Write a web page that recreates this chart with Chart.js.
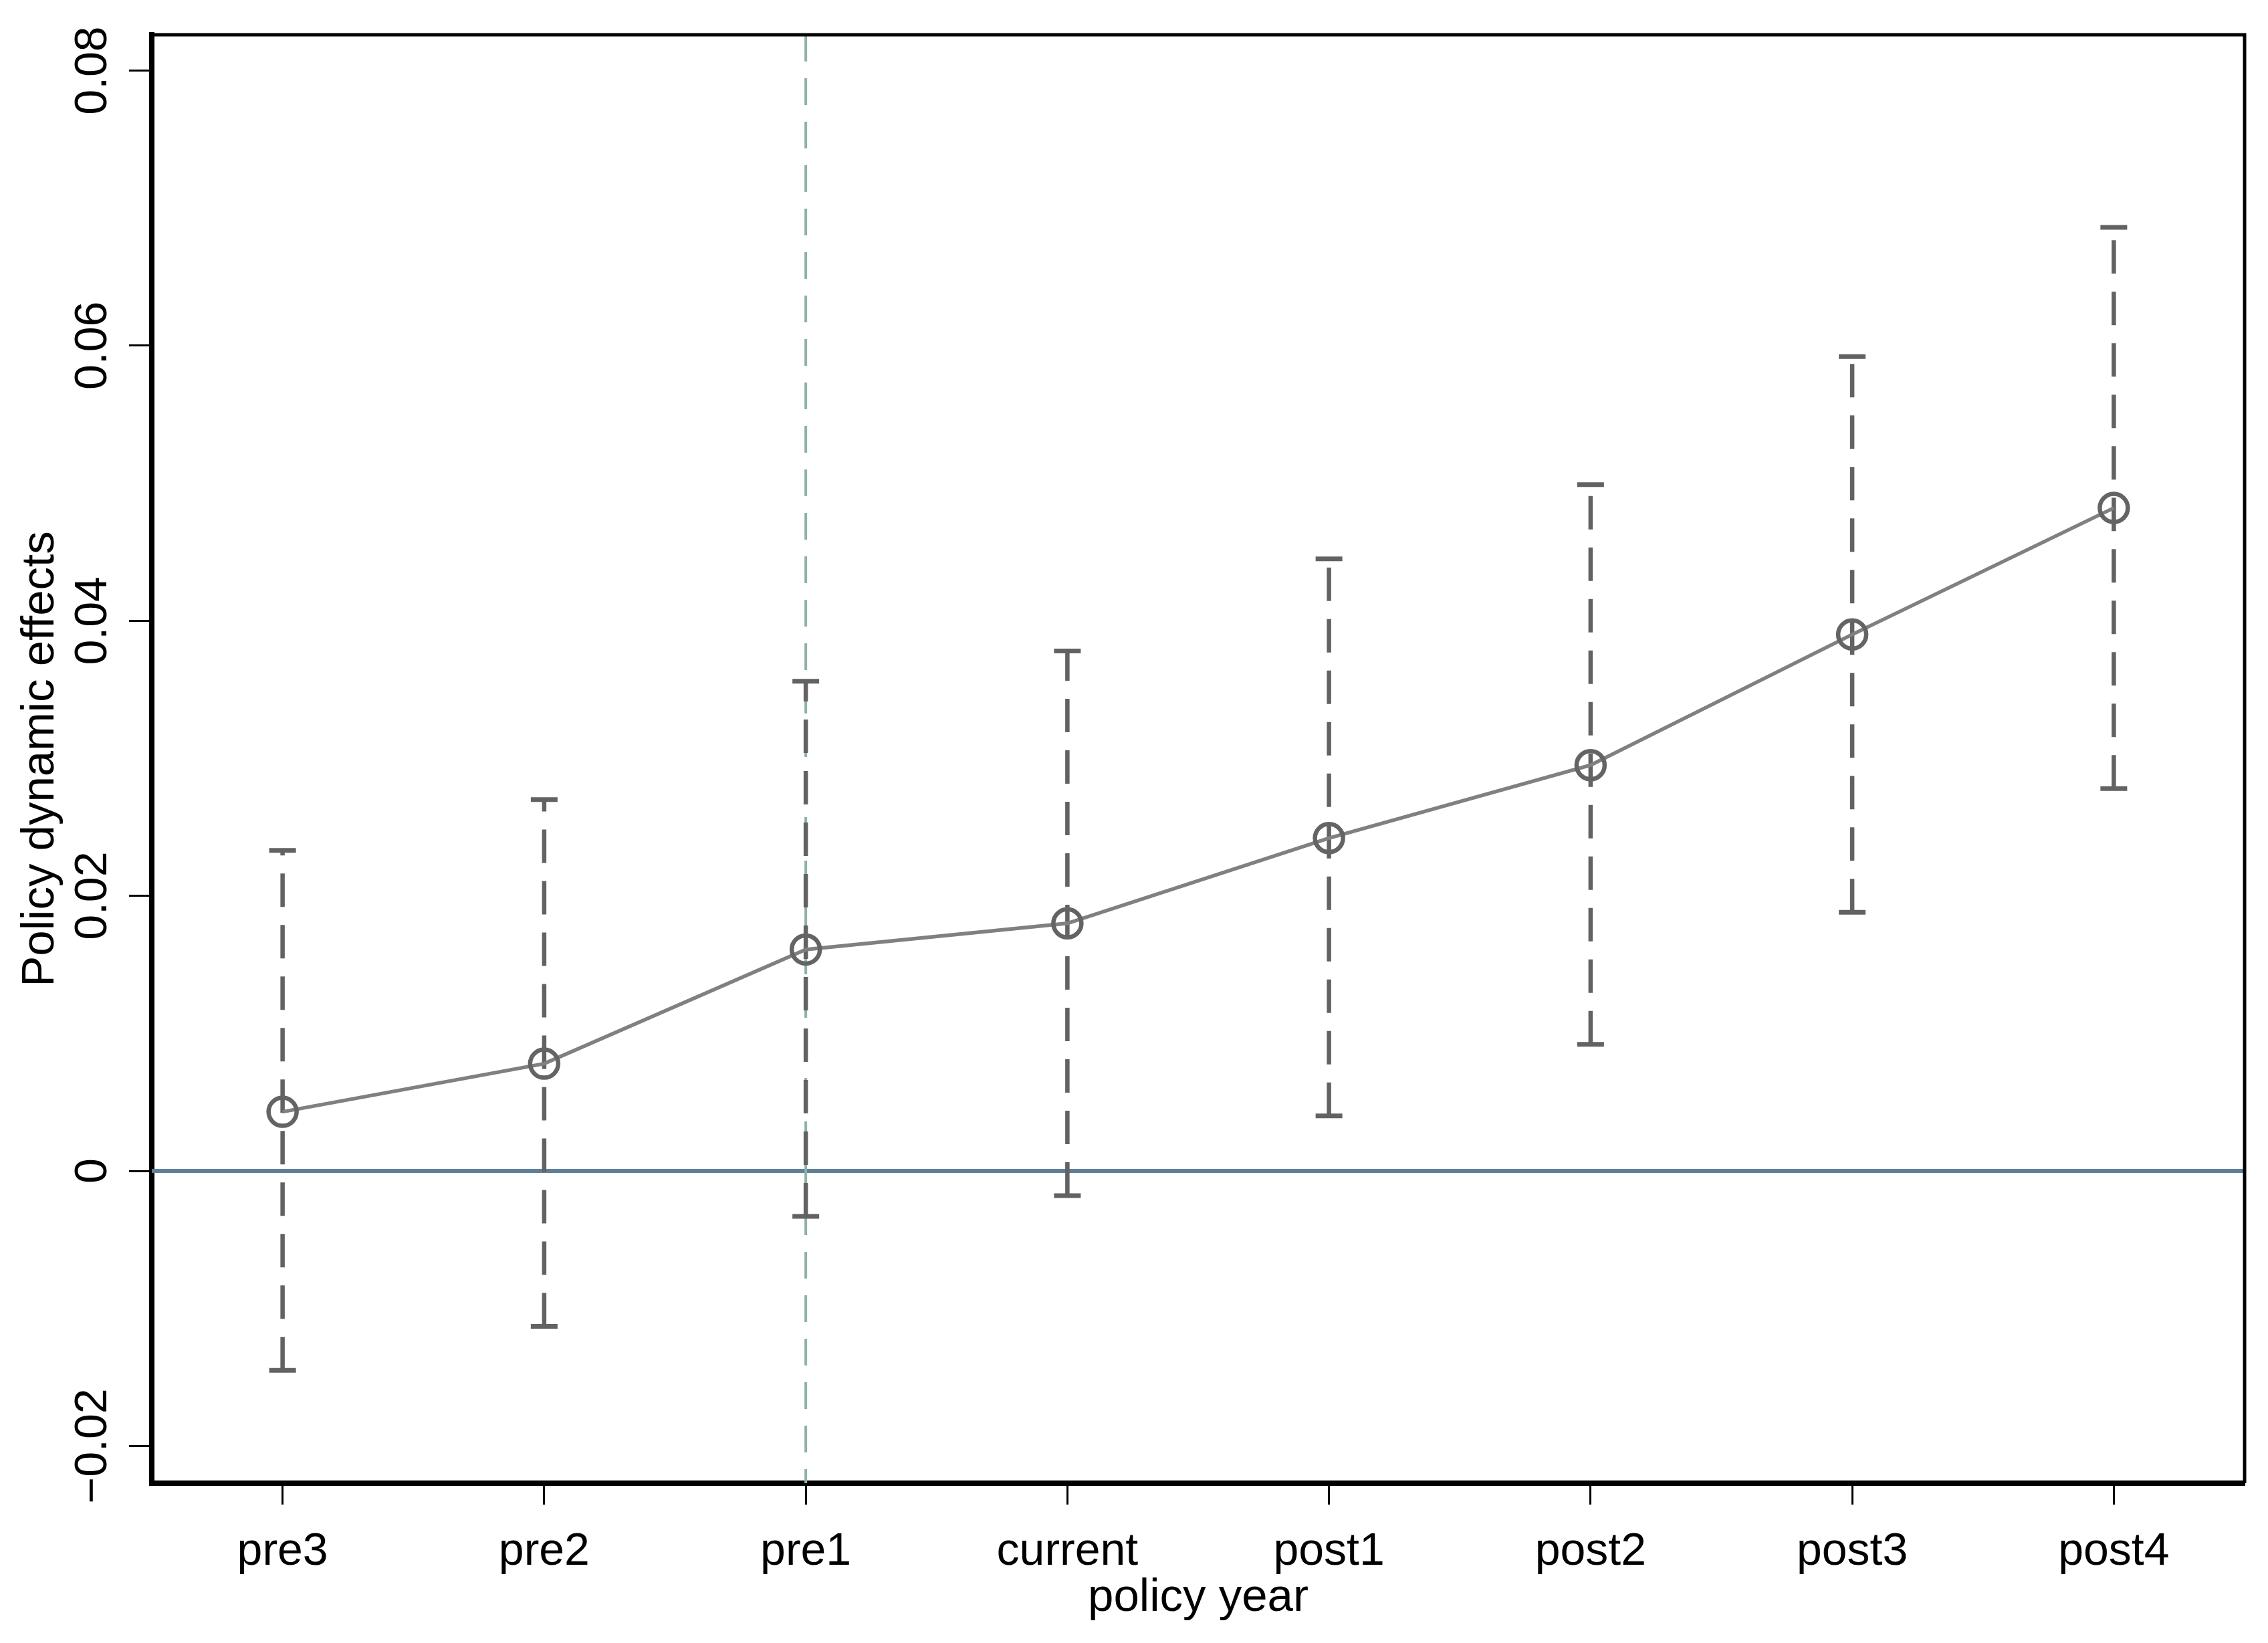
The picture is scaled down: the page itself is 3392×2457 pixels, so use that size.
<!DOCTYPE html>
<html>
<head>
<meta charset="utf-8">
<script src="https://cdn.jsdelivr.net/npm/chart.js@4.4.1/dist/chart.umd.min.js"></script>
<style>
  html, body { margin: 0; padding: 0; background: #fff; }
  #wrap { width: 3392px; height: 2457px; position: relative; }
</style>
</head>
<body>
<div id="wrap"><canvas id="effects"></canvas></div>
<script>
// data
const categories = ['pre3', 'pre2', 'pre1', 'current', 'post1', 'post2', 'post3', 'post4'];
const coef  = [0.0043, 0.0078, 0.0161, 0.0180, 0.0242, 0.0295, 0.0390, 0.0482];
const lower = [-0.0145, -0.0113, -0.0033, -0.0018, 0.0040, 0.0092, 0.0188, 0.0278];
const upper = [0.0233, 0.0270, 0.0356, 0.0378, 0.0445, 0.0499, 0.0592, 0.0686];
const yTicks = [-0.02, 0, 0.02, 0.04, 0.06, 0.08];
const yTickLabels = ['\u22120.02', '0', '0.02', '0.04', '0.06', '0.08'];
const refCategory = 'pre1';
const refValue = 0;

const FONT = "'Liberation Sans', Arial, sans-serif";

// reference lines + error bars, under the line and markers
const ciPlugin = {
  id: 'ciBars',
  beforeDatasetsDraw(chart) {
    const {ctx, chartArea, scales: {x, y}} = chart;
    ctx.save();
    ctx.beginPath();
    ctx.rect(chartArea.left, chartArea.top, chartArea.right - chartArea.left, chartArea.bottom - chartArea.top);
    ctx.clip();

    // zero line
    const y0 = y.getPixelForValue(refValue);
    ctx.strokeStyle = '#5f7f98';
    ctx.lineWidth = 6;
    ctx.setLineDash([]);
    ctx.beginPath();
    ctx.moveTo(chartArea.left, y0);
    ctx.lineTo(chartArea.right, y0);
    ctx.stroke();

    // policy year line
    const xr = x.getPixelForValue(categories.indexOf(refCategory));
    ctx.strokeStyle = '#8db2a6';
    ctx.lineWidth = 4;
    ctx.setLineDash([40, 25]);
    ctx.beginPath();
    ctx.moveTo(xr, chartArea.top);
    ctx.lineTo(xr, chartArea.bottom);
    ctx.stroke();

    // confidence intervals
    ctx.strokeStyle = '#626262';
    ctx.lineCap = 'butt';
    categories.forEach((c, i) => {
      const px = x.getPixelForValue(i);
      const lo = y.getPixelForValue(lower[i]);
      const hi = y.getPixelForValue(upper[i]);
      ctx.lineWidth = 6.5;
      ctx.setLineDash([50, 27]);
      ctx.beginPath();
      ctx.moveTo(px, lo);
      ctx.lineTo(px, hi);
      ctx.stroke();
      ctx.setLineDash([]);
      ctx.lineWidth = 7;
      ctx.beginPath();
      ctx.moveTo(px - 20, lo);
      ctx.lineTo(px + 20, lo);
      ctx.moveTo(px - 20, hi);
      ctx.lineTo(px + 20, hi);
      ctx.stroke();
    });
    ctx.restore();
  },
  afterDraw(chart) {
    // top and right frame
    const {ctx, chartArea} = chart;
    ctx.save();
    ctx.strokeStyle = '#000';
    ctx.lineWidth = 5;
    ctx.beginPath();
    ctx.moveTo(chartArea.left, chartArea.top);
    ctx.lineTo(chartArea.right, chartArea.top);
    ctx.lineTo(chartArea.right, chartArea.bottom);
    ctx.stroke();
    ctx.restore();
  }
};

new Chart(document.getElementById('effects'), {
  type: 'line',
  data: {
    labels: categories,
    datasets: [{
      label: 'coef',
      data: coef,
      borderColor: '#808080',
      borderWidth: 5.5,
      tension: 0,
      pointStyle: 'circle',
      pointRadius: 21,
      pointBorderWidth: 6.5,
      pointBorderColor: '#646464',
      pointBackgroundColor: 'rgba(0,0,0,0)'
    }]
  },
  options: {
    responsive: true,
    maintainAspectRatio: false,
    animation: false,
    devicePixelRatio: 1,
    layout: { padding: { top: 52, right: 35, left: 0, bottom: 0 } },
    plugins: { legend: { display: false }, tooltip: { enabled: false } },
    scales: {
      x: {
        type: 'category',
        offset: true,
        grid: { drawOnChartArea: false, tickLength: 32, tickWidth: 3, tickColor: '#000' },
        border: { color: '#000', width: 8 },
        ticks: { color: '#000', padding: 30, font: { family: FONT, size: 68 } },
        title: { display: true, text: 'policy year', color: '#000', font: { family: FONT, size: 69 }, padding: { top: 0, bottom: 26 } },
        afterFit(scale) { scale.height = 239; }
      },
      y: {
        min: -0.0227,
        max: 0.0826,
        afterBuildTicks(scale) { scale.ticks = yTicks.map(v => ({ value: v })); },
        grid: { drawOnChartArea: false, tickLength: 34, tickWidth: 3, tickColor: '#000' },
        border: { color: '#000', width: 8 },
        ticks: {
          color: '#000',
          minRotation: 90,
          maxRotation: 90,
          crossAlign: 'center',
          padding: -33,
          font: { family: FONT, size: 68 },
          callback(value) { return yTickLabels[yTicks.indexOf(value)]; }
        },
        title: { display: true, text: 'Policy dynamic effects', color: '#000', font: { family: FONT, size: 69 }, padding: { top: 20, bottom: 0 } },
        afterFit(scale) { scale.width = 227; }
      }
    }
  },
  plugins: [ciPlugin]
});
</script>
</body>
</html>
